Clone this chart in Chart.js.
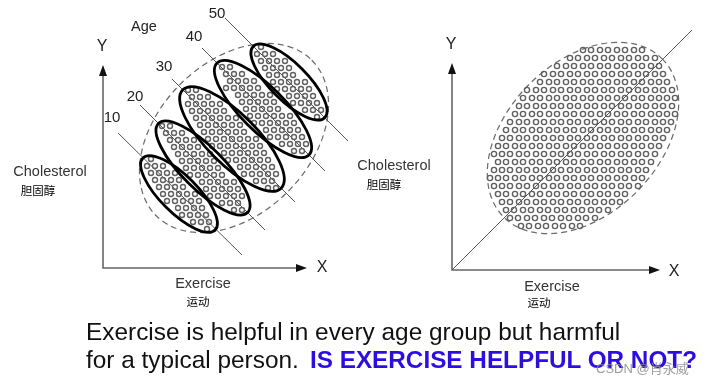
<!DOCTYPE html>
<html>
<head>
<meta charset="utf-8">
<script src="https://cdn.jsdelivr.net/npm/chart.js@4.4.1/dist/chart.umd.min.js"></script>
<style>
body{margin:0;background:#fff;width:710px;height:387px;overflow:hidden;position:relative;font-family:"Liberation Sans",Arial,sans-serif}
canvas{position:absolute;top:0}
#left{left:0}
#right{left:355px}
.txt{position:absolute;left:86px;top:318px;font-size:24.4px;line-height:28px;color:#111;white-space:nowrap}
#q{position:absolute;left:310px;top:346px;font-size:24.3px;line-height:28px;font-weight:bold;color:#2c0fe0;white-space:nowrap}
#wm{position:absolute;left:596px;top:361px;font-size:13px;line-height:16px;color:rgba(140,140,140,0.85);white-space:nowrap;font-family:"Liberation Sans","Noto Sans CJK SC",sans-serif}
</style>
</head>
<body>
<canvas id="left" width="355" height="320"></canvas>
<canvas id="right" width="355" height="320"></canvas>
<div class="txt">Exercise is helpful in every age group but harmful<br>for a typical person.</div>
<div id="q">IS EXERCISE HELPFUL OR NOT?</div>
<div id="wm">CSDN @肖永威</div>
<script>
// age groups, left panel
const ageLabels = ['10', '20', '30', '40', '50'];
const ageLabelAt = [[9, 150], [32, 171], [61, 201], [91, 231], [114, 254]];

// each row: [cholesterol, [exercise values...]]
const rows10 = [
  [39, [104]],
  [46, [90, 98, 106]],
  [53, [79, 87, 95, 103]],
  [60, [75, 83, 91, 99]],
  [67, [64, 72, 80, 88, 96]],
  [74, [60, 68, 76, 84, 92]],
  [81, [56, 64, 72, 80]],
  [88, [52, 60, 68, 76]],
  [95, [48, 56, 64, 72]],
  [102, [44, 52, 60]],
  [109, [48]]
];
const rows20 = [
  [58, [131, 139]],
  [65, [119, 127, 135]],
  [72, [107, 115, 123, 131, 139]],
  [79, [103, 111, 119, 127, 135]],
  [86, [99, 107, 115, 123, 131]],
  [93, [87, 95, 103, 111, 119]],
  [100, [83, 91, 99, 107, 115]],
  [107, [79, 87, 95, 103, 111]],
  [114, [75, 83, 91, 99, 107]],
  [121, [71, 79, 87, 95]],
  [128, [67, 75, 83, 91]],
  [135, [63, 71, 79]],
  [142, [59, 67]]
];
const rows30 = [
  [80, [165, 173]],
  [87, [153, 161, 169]],
  [94, [141, 149, 157, 165, 173]],
  [101, [137, 145, 153, 161, 169]],
  [108, [125, 133, 141, 149, 157, 165]],
  [115, [121, 129, 137, 145, 153, 161]],
  [122, [109, 117, 125, 133, 141, 149, 157]],
  [129, [105, 113, 121, 129, 137, 145, 153]],
  [136, [101, 109, 117, 125, 133, 141]],
  [143, [97, 105, 113, 121, 129, 137]],
  [150, [93, 101, 109, 117, 125, 133]],
  [157, [89, 97, 105, 113, 121]],
  [164, [85, 93, 101, 109, 117]],
  [171, [89, 97, 105]],
  [178, [85, 93]]
];
const rows40 = [
  [117, [191, 199]],
  [124, [179, 187, 195, 203]],
  [131, [167, 175, 183, 191, 199]],
  [138, [163, 171, 179, 187, 195]],
  [145, [151, 159, 167, 175, 183, 191]],
  [152, [147, 155, 163, 171, 179, 187]],
  [159, [143, 151, 159, 167, 175]],
  [166, [139, 147, 155, 163, 171]],
  [173, [135, 143, 151, 159, 167]],
  [180, [123, 131, 139, 147, 155]],
  [187, [127, 135, 143, 151]],
  [194, [123, 131, 139]],
  [201, [119, 127]]
];
const rows50 = [
  [151, [214]],
  [158, [202, 210, 218]],
  [165, [190, 198, 206, 214]],
  [172, [186, 194, 202, 210]],
  [179, [174, 182, 190, 198, 206]],
  [186, [170, 178, 186, 194, 202]],
  [193, [166, 174, 182, 190]],
  [200, [162, 170, 178, 186]],
  [207, [158, 166, 174, 182]],
  [214, [154, 162, 170]],
  [221, [158]]
];
const ageRows = [rows10, rows20, rows30, rows40, rows50];

// age trend lines (start, end)
const ageLineFrom = [[15, 135], [37, 163], [69, 189], [99, 220], [122, 250]];
const ageLineTo = [[139, 13], [162, 38], [192, 66], [222, 97], [245, 127]];

// age group ellipses: centre, semi axes, tilt (degrees)
const ageCx = [76, 100, 129, 160, 186];
const ageCy = [74, 100, 129, 159, 186];
const ageA = [51, 63, 69.5, 65, 50.5];
const ageB = [18.5, 21, 25, 22, 18.5];
const ageTilt = -45;
const leftEnvelope = [131, 130, 110, 76, 45];
const leftAxisEnd = [204, 203];

// right panel: everybody pooled
const allRows = [
  [44, [69, 77, 86, 94, 103, 111, 120, 128]],
  [52, [58, 66, 75, 83, 92, 100, 109, 117, 126, 134, 143]],
  [60, [54, 62, 71, 79, 88, 96, 105, 113, 122, 130, 139, 147, 156]],
  [68, [50, 58, 67, 75, 84, 92, 101, 109, 118, 126, 135, 143, 152, 160, 168]],
  [76, [46, 54, 63, 71, 80, 88, 97, 105, 114, 122, 131, 139, 148, 156, 165, 173]],
  [84, [42, 50, 58, 67, 75, 84, 92, 101, 109, 118, 126, 135, 143, 152, 160, 169, 177, 186]],
  [92, [38, 46, 54, 63, 71, 80, 88, 97, 105, 114, 122, 131, 139, 148, 156, 165, 173, 182, 190]],
  [100, [42, 50, 58, 67, 75, 84, 92, 101, 109, 118, 126, 135, 143, 152, 160, 169, 177, 186, 194]],
  [108, [46, 54, 63, 71, 80, 88, 97, 105, 114, 122, 131, 139, 148, 156, 165, 173, 182, 190, 199]],
  [116, [42, 50, 58, 67, 75, 84, 92, 101, 109, 118, 126, 135, 143, 152, 160, 169, 177, 186, 194, 203]],
  [124, [46, 54, 63, 71, 80, 88, 97, 105, 114, 122, 131, 139, 148, 156, 165, 173, 182, 190, 199, 207]],
  [132, [50, 58, 67, 75, 84, 92, 101, 109, 118, 126, 135, 143, 152, 160, 169, 177, 186, 194, 203, 211]],
  [140, [54, 63, 71, 80, 88, 97, 105, 114, 122, 131, 139, 148, 156, 165, 173, 182, 190, 199, 207, 215]],
  [148, [58, 67, 75, 84, 92, 101, 109, 118, 126, 135, 143, 152, 160, 169, 177, 186, 194, 203, 211, 219]],
  [156, [63, 71, 80, 88, 97, 105, 114, 122, 131, 139, 148, 156, 165, 173, 182, 190, 199, 207, 215, 223]],
  [164, [67, 75, 84, 92, 101, 109, 118, 126, 135, 143, 152, 160, 169, 177, 186, 194, 203, 211, 220]],
  [172, [71, 80, 88, 97, 105, 114, 122, 131, 139, 148, 156, 165, 173, 182, 190, 199, 207, 215, 223]],
  [180, [75, 84, 92, 101, 109, 118, 126, 135, 143, 152, 160, 169, 177, 186, 194, 203, 211, 220]],
  [188, [88, 97, 105, 114, 122, 131, 139, 148, 156, 165, 173, 182, 190, 199, 207, 215]],
  [196, [92, 101, 109, 118, 126, 135, 143, 152, 160, 169, 177, 186, 194, 203, 211]],
  [204, [105, 114, 122, 131, 139, 148, 156, 165, 173, 182, 190, 199, 207]],
  [212, [118, 126, 135, 143, 152, 160, 169, 177, 186, 194, 203]],
  [220, [131, 139, 148, 156, 165, 173, 182, 190]]
];
const allLine = [[0, 0], [240, 240]];
const rightEnvelope = [131, 132, 112, 76, 45];
const rightAxisEnd = [208, 207];

function toPoints(rows) {
  var pts = [];
  rows.forEach(function(r) {
    r[1].forEach(function(x) { pts.push({x: x, y: r[0]}); });
  });
  return pts;
}

function circles(rows, r) {
  return {
    type: 'scatter',
    data: toPoints(rows),
    pointStyle: 'circle',
    pointRadius: r,
    pointHoverRadius: r,
    pointBorderWidth: 1.4,
    pointBorderColor: '#606060',
    pointBackgroundColor: 'rgba(255,255,255,0)',
    clip: false
  };
}

function segment(a, b, color) {
  return {
    type: 'line',
    data: [{x: a[0], y: a[1]}, {x: b[0], y: b[1]}],
    borderColor: color,
    borderWidth: 1,
    pointRadius: 0,
    fill: false,
    clip: false
  };
}

function ellipsePath(chart, cx, cy, a, b, tilt) {
  var xs = chart.scales.x, ys = chart.scales.y, ctx = chart.ctx;
  var px = xs.getPixelForValue(cx), py = ys.getPixelForValue(cy);
  var rx = Math.abs(xs.getPixelForValue(cx + a) - px);
  var ry = Math.abs(ys.getPixelForValue(cy + b) - py);
  ctx.beginPath();
  ctx.ellipse(px, py, rx, ry, -tilt * Math.PI / 180, 0, 2 * Math.PI);
}

const decor = {
  id: 'decor',
  beforeDatasetsDraw: function(chart, args, o) {
    var ctx = chart.ctx, xs = chart.scales.x, ys = chart.scales.y;
    var x0 = xs.getPixelForValue(0), y0 = ys.getPixelForValue(0);
    var xe = xs.getPixelForValue(o.axisEnd[0]), ye = ys.getPixelForValue(o.axisEnd[1]);
    ctx.save();
    ctx.strokeStyle = '#666';
    ctx.lineWidth = 1.6;
    ctx.beginPath();
    ctx.moveTo(x0, ye + 8);
    ctx.lineTo(x0, y0);
    ctx.lineTo(xe - 8, y0);
    ctx.stroke();
    ctx.fillStyle = '#111';
    ctx.beginPath();
    ctx.moveTo(x0, ye); ctx.lineTo(x0 - 4, ye + 11); ctx.lineTo(x0 + 4, ye + 11); ctx.closePath();
    ctx.fill();
    ctx.beginPath();
    ctx.moveTo(xe, y0); ctx.lineTo(xe - 11, y0 - 4); ctx.lineTo(xe - 11, y0 + 4); ctx.closePath();
    ctx.fill();
    // dashed outline
    var e = o.envelope;
    ctx.setLineDash([6, 4]);
    ctx.strokeStyle = '#6a6a6a';
    ctx.lineWidth = 1.2;
    ellipsePath(chart, e[0], e[1], e[2], e[3], e[4]);
    ctx.stroke();
    ctx.restore();
  },
  afterDatasetsDraw: function(chart, args, o) {
    var ctx = chart.ctx;
    ctx.save();
    if (o.groups) {
      ctx.strokeStyle = '#000';
      ctx.lineWidth = 2.8;
      for (var i = 0; i < ageCx.length; i++) {
        ellipsePath(chart, ageCx[i], ageCy[i], ageA[i], ageB[i], ageTilt);
        ctx.stroke();
      }
      ctx.fillStyle = '#222';
      ctx.font = '15px "Liberation Sans", Arial, sans-serif';
      ctx.textAlign = 'center';
      ctx.textBaseline = 'middle';
      for (var j = 0; j < ageLabels.length; j++) {
        var lx = chart.scales.x.getPixelForValue(ageLabelAt[j][0]);
        var ly = chart.scales.y.getPixelForValue(ageLabelAt[j][1]);
        ctx.fillText(ageLabels[j], lx, ly);
      }
    }
    o.texts.forEach(function(t) {
      ctx.font = t[3];
      ctx.fillStyle = t[4] || '#222';
      ctx.textAlign = 'center';
      ctx.textBaseline = 'middle';
      ctx.fillText(t[0], t[1], t[2]);
    });
    ctx.restore();
  }
};

const latin = '"Liberation Sans", Arial, sans-serif';
const cjk = '"Noto Sans CJK SC", sans-serif';

function baseOptions(pad, plug) {
  return {
    responsive: false,
    animation: false,
    events: [],
    layout: {padding: pad, autoPadding: false},
    scales: {
      x: {type: 'linear', min: 0, max: 250, display: false},
      y: {type: 'linear', min: 0, max: 260, display: false}
    },
    plugins: {legend: {display: false}, tooltip: {enabled: false}, decor: plug}
  };
}

var leftSets = ageRows.map(function(r) { return circles(r, 2.5); });
for (var i = 0; i < ageLabels.length; i++) leftSets.push(segment(ageLineFrom[i], ageLineTo[i], '#555'));

new Chart(document.getElementById('left'), {
  type: 'scatter',
  data: {datasets: leftSets},
  options: baseOptions({left: 103, right: 2, top: 8, bottom: 52}, {
    groups: true,
    axisEnd: leftAxisEnd,
    envelope: leftEnvelope,
    texts: [
      ['Y', 102, 47, '16px ' + latin],
      ['X', 322, 268, '16px ' + latin],
      ['Age', 144, 27, '14.5px ' + latin],
      ['Cholesterol', 50, 172, '14.5px ' + latin, '#333'],
      ['胆固醇', 38, 191, '11.5px ' + cjk, '#000'],
      ['Exercise', 203, 284, '14.5px ' + latin, '#333'],
      ['运动', 198, 302, '11.5px ' + cjk, '#000']
    ]
  }),
  plugins: [decor]
});

new Chart(document.getElementById('right'), {
  type: 'scatter',
  data: {datasets: [circles(allRows, 2.6), segment(allLine[0], allLine[1], '#555')]},
  options: baseOptions({left: 97, right: 8, top: 10, bottom: 50}, {
    groups: false,
    axisEnd: rightAxisEnd,
    envelope: rightEnvelope,
    texts: [
      ['Y', 96, 45, '16px ' + latin],
      ['X', 319, 272, '16px ' + latin],
      ['Cholesterol', 39, 166, '14.5px ' + latin, '#333'],
      ['胆固醇', 29, 185, '11.5px ' + cjk, '#000'],
      ['Exercise', 197, 287, '14.5px ' + latin, '#333'],
      ['运动', 184, 303, '11.5px ' + cjk, '#000']
    ]
  }),
  plugins: [decor]
});
</script>
</body>
</html>
